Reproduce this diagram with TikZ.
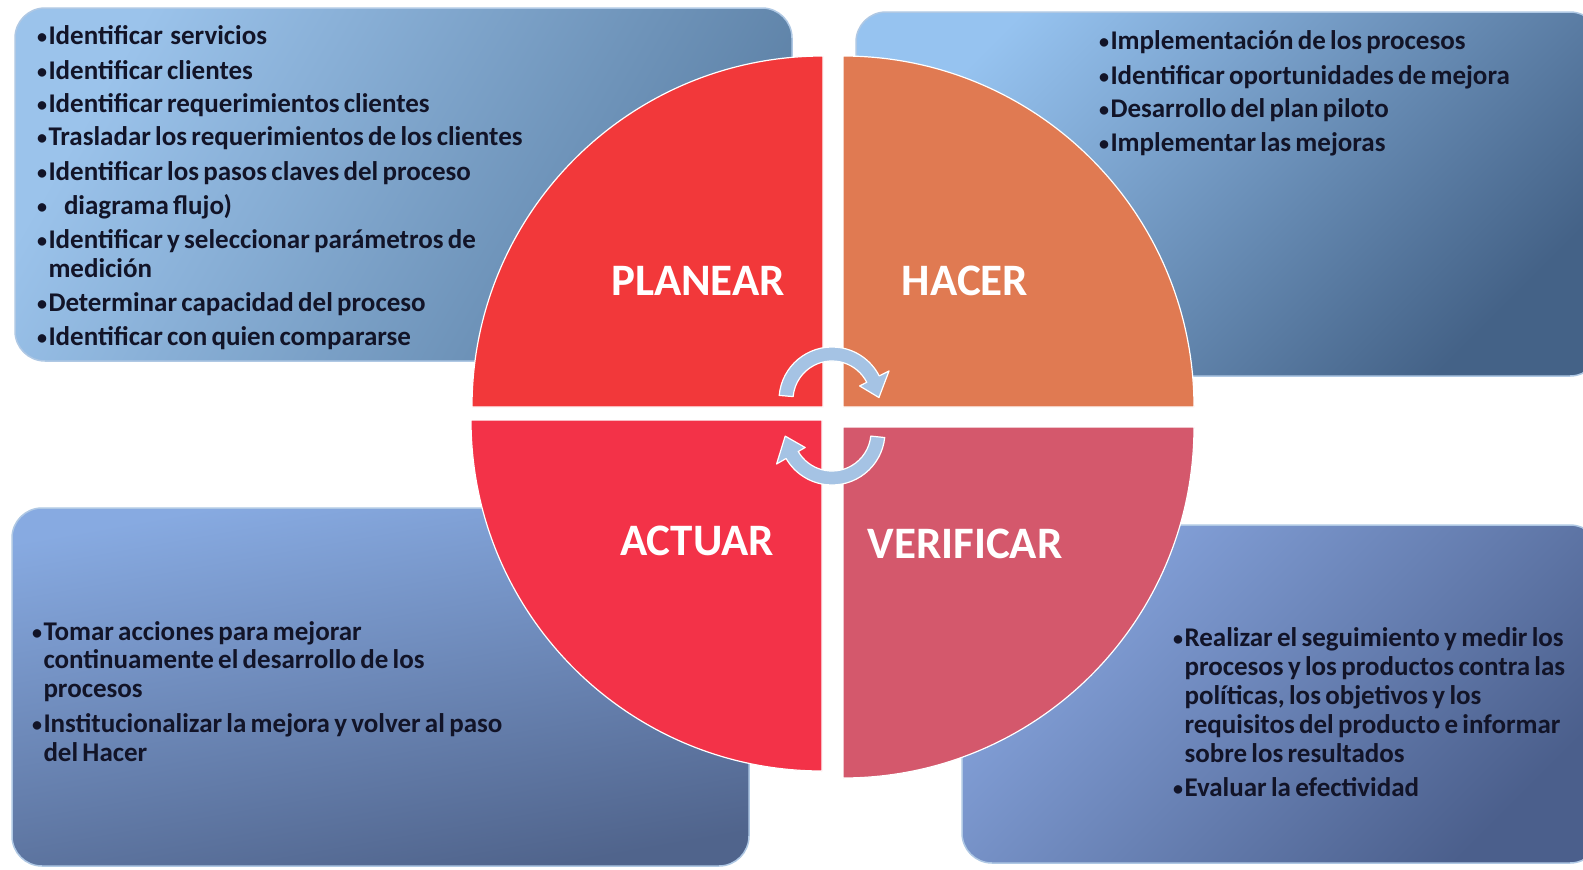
\documentclass[tikz,border=0pt]{standalone}
\usepackage{fontspec}
\setmainfont{Carlito}[WordSpace=0.7]
\usetikzlibrary{calc}
\definecolor{txtc}{RGB}{18,20,40}
\definecolor{qplan}{RGB}{242,56,58}
\definecolor{qhac}{RGB}{224,122,82}
\definecolor{qact}{RGB}{243,50,72}
\definecolor{qver}{RGB}{212,88,108}
\definecolor{arrc}{RGB}{165,195,228}
\definecolor{boxedge}{RGB}{175,200,228}
\definecolor{tlA}{RGB}{155,195,235}
\definecolor{tlB}{RGB}{92,128,165}
\definecolor{trA}{RGB}{150,195,240}
\definecolor{trB}{RGB}{68,98,135}
\definecolor{blA}{RGB}{135,170,225}
\definecolor{blB}{RGB}{80,100,140}
\definecolor{brA}{RGB}{135,165,222}
\definecolor{brB}{RGB}{75,95,140}
\newcommand{\mybul}{\makebox[10.5pt][l]{\hspace*{-1pt}\raisebox{0.5pt}{\fontsize{20}{20}\selectfont•}}}
\newcommand{\myind}{\hspace*{10.5pt}}
\begin{document}
\begin{tikzpicture}[x=1pt,y=-1pt,
  panel/.style={rounded corners=30pt, draw=boxedge, line width=1.5pt},
  quad/.style={draw=white, line width=1.2pt},
  txt/.style={anchor=base west, inner sep=0pt, outer sep=0pt, text=txtc,
    font=\bfseries\fontsize{27}{27}\selectfont},
  lab/.style={anchor=base, inner sep=0pt, text=white,
    font=\bfseries\fontsize{45}{45}\selectfont},
  cyc/.style={fill=arrc, draw=white, line width=1.2pt, line join=round}]
\useasboundingbox (0,0) rectangle (1583,870);
\fill[white] (0,0) rectangle (1583,870);

% panels
\shade[panel, top color=tlA, bottom color=tlB, shading angle=60] (15,8) rectangle (792,361);
\shade[panel, top color=trA, bottom color=trB, shading angle=45] (856,12) rectangle (1600,376);
\shade[panel, top color=blA, bottom color=blB, shading angle=10] (12,508) rectangle (749,866);
\shade[panel, top color=brA, bottom color=brB, shading angle=45] (962,525) rectangle (1600,863);

% quadrants
\filldraw[quad, fill=qplan] (823,407) -- (472,407) arc[start angle=180, end angle=270, radius=351] -- cycle;
\filldraw[quad, fill=qhac] (843,407) -- (843,56) arc[start angle=270, end angle=360, radius=351] -- cycle;
\filldraw[quad, fill=qver] (843,427) -- (1194,427) arc[start angle=0, end angle=90, radius=351] -- cycle;
\filldraw[quad, fill=qact] (822,420) -- (822,771) arc[start angle=90, end angle=180, radius=351] -- cycle;

% cycle arrows
\coordinate (ca) at (832,400);
\coordinate (cb) at (832,432);
\filldraw[cyc] ($(ca)+(185:53)$) arc[start angle=185, end angle=333, radius=53]
  -- ($(ca)+(333:64)$) -- ($(ca)+(357:47)$) -- ($(ca)+(333:31)$)
  -- ($(ca)+(333:39)$) arc[start angle=333, end angle=185, radius=39] -- cycle;
\filldraw[cyc] ($(cb)+(6:53)$) arc[start angle=6, end angle=150, radius=53]
  -- ($(cb)+(150:64)$) -- ($(cb)+(175:47)$) -- ($(cb)+(150:31)$)
  -- ($(cb)+(150:39)$) arc[start angle=150, end angle=6, radius=39] -- cycle;

% labels
\node[lab] (planear) at (698,295) {PLANEAR};
\node[lab] (hacer) at (965,295) {HACER};
\node[lab] (actuar) at (697,555) {ACTUAR};
\node[lab] (verificar) at (965,558) {VERIFICAR};

% top-left text
\foreach \yy/\tt [count=\i] in {
  44/{\mybul Identificar\hspace{0.12em} servicios},
  79/{\mybul Identificar clientes},
  112/{\mybul Identificar requerimientos clientes},
  145/{\mybul Trasladar los requerimientos de los clientes},
  180/{\mybul Identificar los pasos claves del proceso},
  214/{\mybul\hspace*{15.5pt}diagrama flujo)},
  248/{\mybul Identificar y seleccionar parámetros de},
  277/{\myind medición},
  311/{\mybul Determinar capacidad del proceso},
  345/{\mybul Identificar con quien compararse}}
  \node[txt] (tl\i) at (38,\yy) {\tt};

% top-right text
\foreach \yy/\tt [count=\i] in {
  49/{\mybul Implementación de los procesos},
  84/{\mybul Identificar oportunidades de mejora},
  117/{\mybul Desarrollo del plan piloto},
  151/{\mybul Implementar las mejoras}}
  \node[txt] (tr\i) at (1100,\yy) {\tt};

% bottom-left text
\foreach \yy/\tt [count=\i] in {
  640/{\mybul Tomar acciones para mejorar},
  668/{\myind continuamente el desarrollo de los},
  697/{\myind procesos},
  732/{\mybul Institucionalizar la mejora y volver al paso},
  761/{\myind del Hacer}}
  \node[txt] (bl\i) at (33,\yy) {\tt};

% bottom-right text
\foreach \yy/\tt [count=\i] in {
  646/{\mybul Realizar el seguimiento y medir los},
  675/{\myind procesos y los productos contra las},
  704/{\myind políticas, los objetivos y los},
  733/{\myind requisitos del producto e informar},
  762/{\myind sobre los resultados},
  796/{\mybul Evaluar la efectividad}}
  \node[txt] (br\i) at (1174,\yy) {\tt};
\end{tikzpicture}
\end{document}
